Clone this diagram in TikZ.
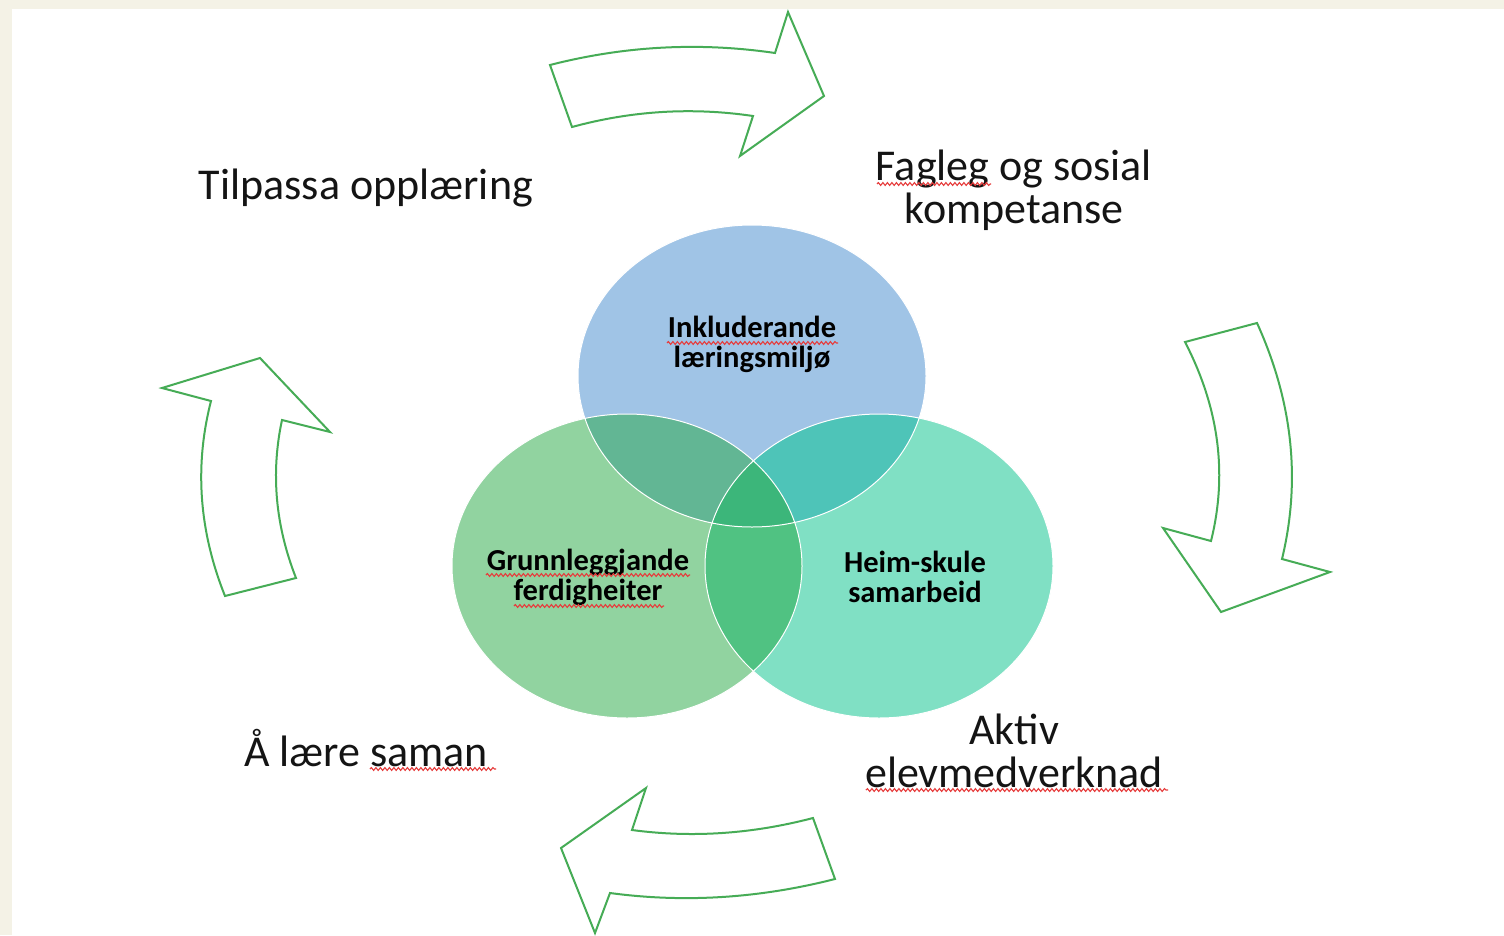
\documentclass[tikz,border=0pt]{standalone}
\usepackage{fontspec}
\setmainfont{Carlito}
\usetikzlibrary{decorations.pathmorphing}
\definecolor{cream}{RGB}{244,242,230}
\definecolor{arrowgreen}{RGB}{70,172,86}
\definecolor{cblue}{RGB}{160,196,230}
\definecolor{cgreen}{RGB}{145,211,160}
\definecolor{cteal}{RGB}{128,224,196}
\definecolor{otl}{RGB}{98,182,148}
\definecolor{otr}{RGB}{78,196,184}
\definecolor{olr}{RGB}{80,194,130}
\definecolor{oall}{RGB}{60,182,122}
\definecolor{spell}{RGB}{230,60,60}
\tikzset{
  blockarrow/.style={draw=arrowgreen, line width=2pt, line join=miter, fill=white},
  outer/.style={font=\fontsize{44}{43}\selectfont, align=center, inner sep=0pt, text=black!92},
  inner/.style={font=\fontsize{30.5}{30}\selectfont\bfseries, align=center, inner sep=0pt},
  wavy/.style={draw=spell, line width=1.1pt, decorate, decoration={snake, amplitude=1.4pt, segment length=4.5pt}},
  rim/.style={draw=white, line width=1pt}
}
\begin{document}
\begin{tikzpicture}[x=1pt,y=-1pt]
\useasboundingbox (0,0) rectangle (1504,935);
\fill[cream] (0,0) rectangle (1504,935);
\fill[white] (12,9) rectangle (1504,935);

% Venn circles
\def\TopE{(752,376) ellipse [x radius=174pt, y radius=151pt]}
\def\LeftE{(627,566) ellipse [x radius=175pt, y radius=152pt]}
\def\RightE{(879,566) ellipse [x radius=174pt, y radius=152pt]}
\fill[cblue] \TopE;
\fill[cgreen] \LeftE;
\fill[cteal] \RightE;
\begin{scope}\clip \TopE; \fill[otl] \LeftE; \fill[otr] \RightE; \end{scope}
\begin{scope}\clip \LeftE; \fill[olr] \RightE; \clip \RightE; \fill[oall] \TopE; \end{scope}
\draw[rim] \TopE; \draw[rim] \LeftE; \draw[rim] \RightE;

% circle labels
\node[inner] (incl) at (752,344) {Inkluderande\\læringsmiljø};
\node[inner] (grunn) at (588,577) {Grunnleggjande\\ferdigheiter};
\node[inner] (heim) at (915,577) {Heim-skule\\samarbeid};

% outer labels
\node[outer] (tilp) at (366,188) {Tilpassa opplæring};
\node[outer] (fagl) at (1014,190) {Fagleg og sosial\\kompetanse};
\node[outer] (aktiv) at (1014,751) {Aktiv\\elevmedverknad};
\node[outer] (saman) at (366,748) {Å lære saman};

% spell-check underlines
\draw[wavy] (877,184) -- (991,184);
\draw[wavy] (667,343) -- (838,343);
\draw[wavy] (486,575) -- (690,575);
\draw[wavy] (514,606) -- (664,606);
\draw[wavy] (370,769) -- (496,769);
\draw[wavy] (866,790) -- (1168,790);

% block arrows
\draw[blockarrow] (550,65) -- (572,127) .. controls (631.7,110.7) and (692,107) .. (753,116)
  -- (740,156) -- (824,96) -- (788,12) -- (775,53) .. controls (699.3,41.9) and (624.3,45.9) .. cycle;
\draw[blockarrow] (1185,342) -- (1257,323) .. controls (1292.7,401.7) and (1301,480.3) .. (1282,559)
  -- (1330,572) -- (1221,612) -- (1163,528) -- (1211,541) .. controls (1227.7,474) and (1219,407.7) .. cycle;
\draw[blockarrow] (813,818) -- (835,879) .. controls (759.3,898.3) and (684.3,903) .. (610,893)
  -- (595,933) -- (561,848) -- (646,788) -- (632,830) .. controls (691.7,838) and (752,834) .. cycle;
\draw[blockarrow] (225,596) -- (296,578) .. controls (275.3,525.3) and (270.7,472.7) .. (282,420)
  -- (330,432) -- (260,358) -- (162,388) -- (211,401) .. controls (194.3,466) and (199,531) .. cycle;
\end{tikzpicture}
\end{document}
